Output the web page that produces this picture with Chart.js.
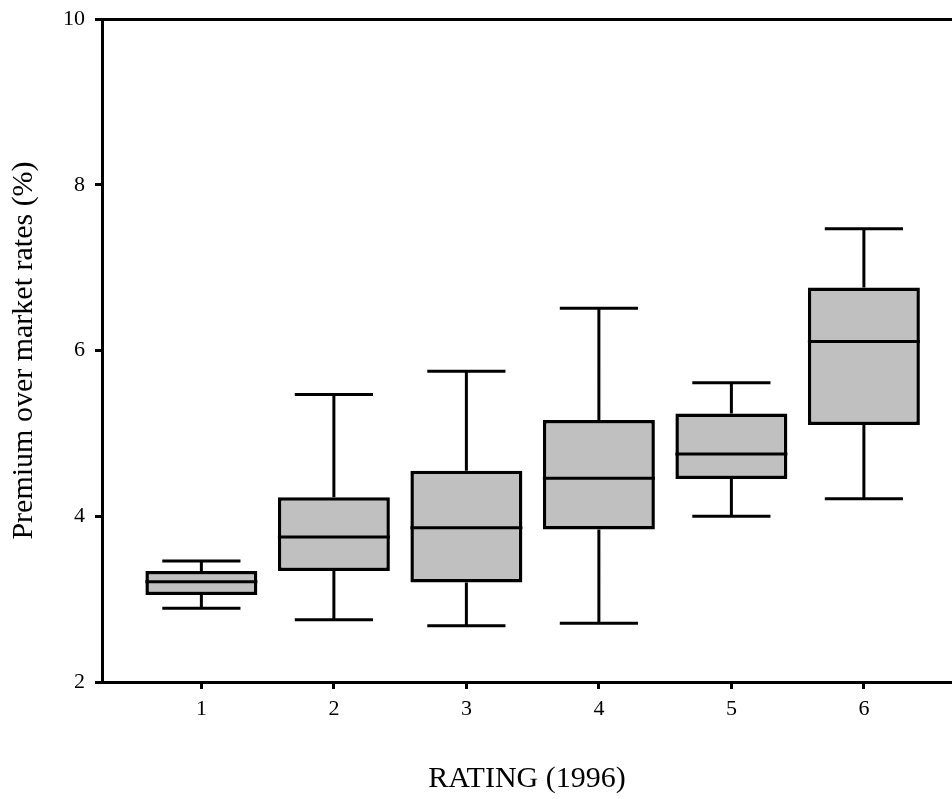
<!DOCTYPE html>
<html>
<head>
<meta charset="utf-8">
<script src="https://cdn.jsdelivr.net/npm/chart.js@4/dist/chart.umd.min.js"></script>
<style>
  body { margin: 0; background: #fff; }
  #wrap { width: 952px; height: 799px; }
</style>
</head>
<body>
<div id="wrap"><canvas id="boxChart" width="952" height="799"></canvas></div>
<script>
// values, one entry per rating
const ratings = [1, 2, 3, 4, 5, 6];
const whiskerLow = [2.89, 2.75, 2.68, 2.71, 4.00, 4.21];
const quart1 = [3.05, 3.34, 3.20, 3.84, 4.45, 5.10];
const medians = [3.21, 3.75, 3.86, 4.46, 4.75, 6.11];
const quart3 = [3.34, 4.23, 4.55, 5.16, 5.24, 6.76];
const whiskerHigh = [3.46, 5.47, 5.75, 6.51, 5.61, 7.47];
const yTicks = [2, 4, 6, 8, 10];

const boxWidth = 0.845;   // share of one rating step
const capHalf = 0.295;
const serif = "'Liberation Serif', 'Times New Roman', serif";

let boxData = ratings.map((r, i) => ({ x: r, y: [quart1[i], quart3[i]] }));

let whiskerPts = [];
let medianPts = [];
ratings.forEach((r, i) => {
  whiskerPts.push({ x: r, y: quart3[i] }, { x: r, y: whiskerHigh[i] }, { x: r, y: null });
  whiskerPts.push({ x: r, y: quart1[i] }, { x: r, y: whiskerLow[i] }, { x: r, y: null });
  whiskerPts.push({ x: r - capHalf, y: whiskerHigh[i] }, { x: r + capHalf, y: whiskerHigh[i] }, { x: r, y: null });
  whiskerPts.push({ x: r - capHalf, y: whiskerLow[i] }, { x: r + capHalf, y: whiskerLow[i] }, { x: r, y: null });
  medianPts.push({ x: r - boxWidth / 2, y: medians[i] }, { x: r + boxWidth / 2, y: medians[i] }, { x: r, y: null });
});

const xMin = 0.25, xMax = 6.665;

var ctx = document.getElementById("boxChart").getContext("2d");
var boxChart = new Chart(ctx, {
  type: "bar",
  data: {
    datasets: [
      {
        type: "line",
        data: whiskerPts,
        borderColor: "#000",
        borderWidth: 3,
        pointRadius: 0,
        spanGaps: false,
        order: 3
      },
      {
        data: boxData,
        backgroundColor: "#c0c0c0",
        borderColor: "#000",
        borderWidth: 3.5,
        borderSkipped: false,
        barPercentage: boxWidth,
        categoryPercentage: 1,
        order: 2
      },
      {
        type: "line",
        data: medianPts,
        borderColor: "#000",
        borderWidth: 3,
        pointRadius: 0,
        spanGaps: false,
        order: 1
      }
    ]
  },
  options: {
    responsive: false,
    animation: false,
    layout: { padding: 0 },
    plugins: { legend: { display: false }, tooltip: { enabled: false } },
    scales: {
      x: {
        type: "linear",
        position: "bottom",
        min: xMin,
        max: xMax,
        offset: false,
        afterBuildTicks: (s) => { s.ticks = ratings.map(v => ({ value: v })); },
        afterFit: (s) => { s.height = 117; },
        grid: { offset: false, drawOnChartArea: false, drawTicks: true, tickLength: 7, tickWidth: 3, tickColor: "#000" },
        border: { display: true, color: "#000", width: 3 },
        ticks: { color: "#000", padding: 7, font: { family: serif, size: 22 } },
        title: {
          display: true,
          text: "RATING (1996)",
          color: "#000",
          font: { family: serif, size: 30 },
          padding: { top: 0, bottom: 2 }
        }
      },
      x2: {
        type: "linear",
        position: "top",
        min: xMin,
        max: xMax,
        afterFit: (s) => { s.height = 19; },
        grid: { drawOnChartArea: false, drawTicks: false },
        border: { display: true, color: "#000", width: 3 },
        ticks: { display: false }
      },
      y: {
        min: 2,
        max: 10,
        afterBuildTicks: (s) => { s.ticks = yTicks.map(v => ({ value: v })); },
        afterFit: (s) => { s.width = 102; s.paddingTop = 0; s.paddingBottom = 0; },
        grid: { drawOnChartArea: false, drawTicks: true, tickLength: 7, tickWidth: 3, tickColor: "#000" },
        border: { display: true, color: "#000", width: 3 },
        ticks: { color: "#000", padding: 10, font: { family: serif, size: 22 } },
        title: {
          display: true,
          text: "Premium over market rates (%)",
          color: "#000",
          font: { family: serif, size: 30 },
          padding: { top: 6, bottom: 0 }
        }
      }
    }
  }
});
</script>
</body>
</html>
